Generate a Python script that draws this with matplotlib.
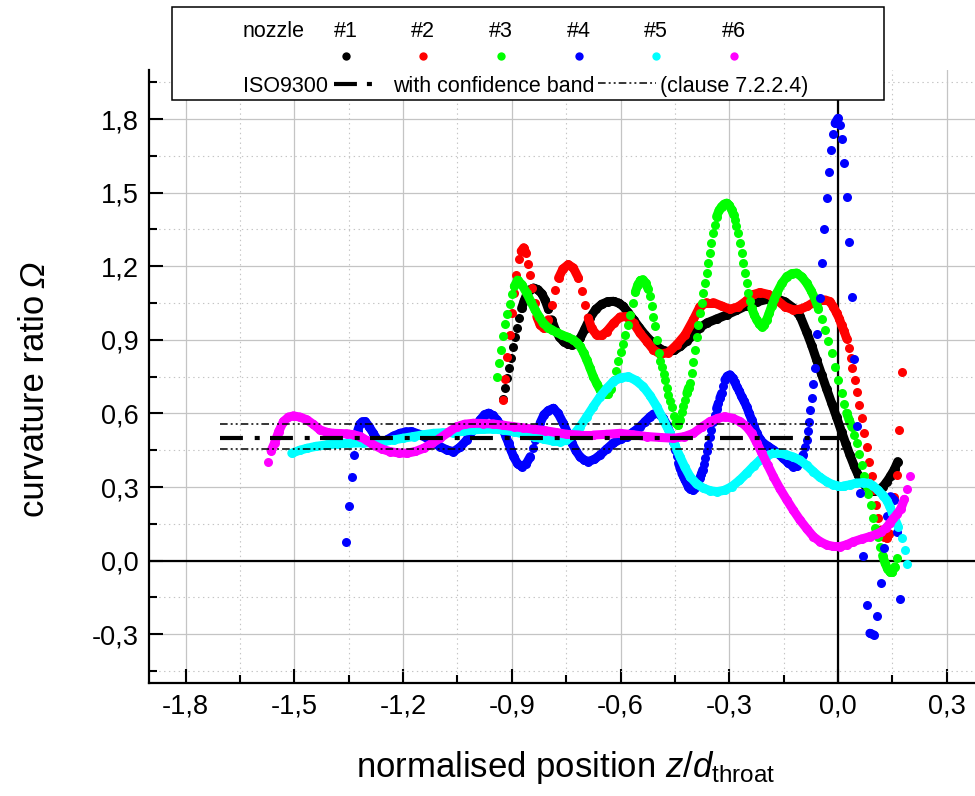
import numpy as np
import matplotlib
matplotlib.use("Agg")
import matplotlib.pyplot as plt
from matplotlib.collections import LineCollection
from matplotlib.lines import Line2D
from matplotlib.patches import Rectangle
from matplotlib.ticker import MultipleLocator, FuncFormatter

plt.rcParams['font.family'] = ['Liberation Sans', 'DejaVu Sans']
plt.rcParams['mathtext.fontset'] = 'custom'
plt.rcParams['mathtext.rm'] = 'Liberation Sans'
plt.rcParams['mathtext.it'] = 'Liberation Sans:italic'
plt.rcParams['lines.scale_dashes'] = False

# values, (z/d_throat, curvature ratio)
NOZZLE_1 = [(-0.923, 0.658), (-0.918, 0.703), (-0.912, 0.745), (-0.907, 0.787), (-0.902, 0.828),
            (-0.897, 0.870), (-0.891, 0.912), (-0.885, 0.950), (-0.879, 0.990), (-0.873, 1.028),
            (-0.866, 1.058), (-0.859, 1.085), (-0.851, 1.103), (-0.840, 1.111), (-0.828, 1.105),
            (-0.817, 1.088), (-0.808, 1.062), (-0.799, 1.025), (-0.790, 0.982), (-0.780, 0.942),
            (-0.768, 0.910), (-0.757, 0.893), (-0.745, 0.882), (-0.734, 0.879), (-0.722, 0.888),
            (-0.711, 0.907), (-0.698, 0.945), (-0.684, 0.990), (-0.668, 1.025), (-0.652, 1.045),
            (-0.635, 1.056), (-0.619, 1.057), (-0.605, 1.050), (-0.592, 1.036), (-0.578, 1.010),
            (-0.564, 0.982), (-0.548, 0.950), (-0.532, 0.920), (-0.516, 0.895), (-0.500, 0.873),
            (-0.484, 0.858), (-0.468, 0.852), (-0.452, 0.857), (-0.435, 0.873), (-0.417, 0.895),
            (-0.399, 0.920), (-0.381, 0.950), (-0.360, 0.970), (-0.335, 0.985), (-0.307, 1.002),
            (-0.280, 1.020), (-0.252, 1.040), (-0.224, 1.055), (-0.196, 1.065), (-0.169, 1.068),
            (-0.146, 1.055), (-0.123, 1.030), (-0.104, 0.995), (-0.086, 0.930), (-0.072, 0.875),
            (-0.059, 0.818), (-0.045, 0.758), (-0.031, 0.698), (-0.017, 0.640), (-0.004, 0.585),
            (0.010, 0.525), (0.022, 0.475), (0.033, 0.430), (0.045, 0.385), (0.056, 0.348),
            (0.066, 0.322), (0.076, 0.303), (0.088, 0.288), (0.100, 0.282), (0.112, 0.288),
            (0.123, 0.300), (0.134, 0.320), (0.145, 0.345), (0.156, 0.373), (0.165, 0.404)]

NOZZLE_2 = [(-0.925, 0.654), (-0.919, 0.740), (-0.912, 0.830), (-0.906, 0.920), (-0.899, 1.010),
            (-0.893, 1.090), (-0.887, 1.165), (-0.880, 1.228), (-0.874, 1.262), (-0.867, 1.275),
            (-0.861, 1.255), (-0.855, 1.210), (-0.849, 1.165), (-0.843, 1.110), (-0.837, 1.050),
            (-0.831, 0.995), (-0.822, 0.962), (-0.812, 0.948), (-0.805, 0.960), (-0.799, 0.982),
            (-0.790, 1.043), (-0.780, 1.104), (-0.771, 1.152), (-0.759, 1.189), (-0.744, 1.207),
            (-0.730, 1.193), (-0.716, 1.152), (-0.707, 1.098), (-0.698, 1.043), (-0.689, 0.989),
            (-0.680, 0.948), (-0.666, 0.920), (-0.652, 0.918), (-0.638, 0.934), (-0.619, 0.968),
            (-0.601, 0.993), (-0.583, 0.995), (-0.564, 0.968), (-0.546, 0.927), (-0.527, 0.893),
            (-0.509, 0.859), (-0.490, 0.842), (-0.468, 0.848), (-0.445, 0.880), (-0.422, 0.920),
            (-0.399, 0.982), (-0.381, 1.035), (-0.362, 1.052), (-0.344, 1.052), (-0.321, 1.038),
            (-0.298, 1.025), (-0.275, 1.035), (-0.252, 1.060), (-0.233, 1.085), (-0.215, 1.093),
            (-0.192, 1.085), (-0.169, 1.063), (-0.146, 1.035), (-0.123, 1.022), (-0.104, 1.025),
            (-0.086, 1.036), (-0.068, 1.052), (-0.050, 1.063), (-0.036, 1.063), (-0.022, 1.056),
            (-0.013, 1.035), (-0.004, 1.010), (0.004, 0.985), (0.010, 0.960), (0.017, 0.935),
            (0.024, 0.905), (0.030, 0.866), (0.035, 0.825), (0.040, 0.784), (0.047, 0.737),
            (0.053, 0.689), (0.059, 0.635), (0.065, 0.580), (0.072, 0.522), (0.079, 0.465),
            (0.085, 0.404), (0.093, 0.345), (0.097, 0.288), (0.105, 0.227), (0.111, 0.173),
            (0.119, 0.125), (0.127, 0.098), (0.135, 0.092), (0.142, 0.110), (0.149, 0.180),
            (0.155, 0.260), (0.162, 0.349), (0.168, 0.533), (0.176, 0.770)]

NOZZLE_3 = [(-0.941, 0.750), (-0.935, 0.805), (-0.929, 0.860), (-0.923, 0.914), (-0.918, 0.965),
            (-0.912, 1.005), (-0.906, 1.045), (-0.900, 1.085), (-0.893, 1.118), (-0.884, 1.143),
            (-0.872, 1.125), (-0.859, 1.091), (-0.847, 1.055), (-0.836, 1.023), (-0.824, 0.993),
            (-0.813, 0.968), (-0.800, 0.950), (-0.790, 0.941), (-0.776, 0.930), (-0.762, 0.920),
            (-0.746, 0.911), (-0.730, 0.900), (-0.720, 0.888), (-0.711, 0.873), (-0.702, 0.848),
            (-0.693, 0.818), (-0.684, 0.785), (-0.675, 0.750), (-0.665, 0.720), (-0.656, 0.695),
            (-0.645, 0.680), (-0.635, 0.678), (-0.626, 0.700), (-0.619, 0.736), (-0.612, 0.775),
            (-0.606, 0.812), (-0.600, 0.850), (-0.594, 0.885), (-0.587, 0.920), (-0.580, 0.960),
            (-0.573, 1.000), (-0.566, 1.050), (-0.559, 1.095), (-0.552, 1.125), (-0.545, 1.142),
            (-0.538, 1.145), (-0.531, 1.132), (-0.524, 1.108), (-0.518, 1.077), (-0.513, 1.036),
            (-0.509, 0.995), (-0.505, 0.955), (-0.500, 0.900), (-0.495, 0.845), (-0.490, 0.815),
            (-0.486, 0.791), (-0.481, 0.762), (-0.477, 0.736), (-0.472, 0.705), (-0.468, 0.675),
            (-0.463, 0.650), (-0.459, 0.627), (-0.453, 0.590), (-0.447, 0.560), (-0.441, 0.552),
            (-0.436, 0.575), (-0.431, 0.605), (-0.427, 0.630), (-0.422, 0.655), (-0.417, 0.682),
            (-0.412, 0.705), (-0.408, 0.725), (-0.403, 0.764), (-0.399, 0.811), (-0.394, 0.860),
            (-0.390, 0.913), (-0.385, 0.960), (-0.381, 1.009), (-0.376, 1.050), (-0.372, 1.090),
            (-0.367, 1.130), (-0.362, 1.172), (-0.358, 1.212), (-0.353, 1.253), (-0.349, 1.295),
            (-0.344, 1.335), (-0.340, 1.370), (-0.335, 1.402), (-0.328, 1.428), (-0.321, 1.443),
            (-0.314, 1.453), (-0.307, 1.457), (-0.300, 1.448), (-0.293, 1.430), (-0.288, 1.410),
            (-0.284, 1.389), (-0.280, 1.365), (-0.275, 1.335), (-0.270, 1.295), (-0.266, 1.253),
            (-0.261, 1.212), (-0.256, 1.172), (-0.252, 1.130), (-0.247, 1.090), (-0.243, 1.058),
            (-0.238, 1.029), (-0.231, 1.002), (-0.224, 0.981), (-0.217, 0.965), (-0.210, 0.954),
            (-0.203, 0.962), (-0.197, 0.981), (-0.190, 1.008), (-0.183, 1.038), (-0.176, 1.065),
            (-0.169, 1.090), (-0.155, 1.130), (-0.141, 1.158), (-0.127, 1.170), (-0.114, 1.172),
            (-0.100, 1.157), (-0.086, 1.131), (-0.074, 1.100), (-0.063, 1.065), (-0.054, 1.027),
            (-0.045, 0.985), (-0.036, 0.940), (-0.027, 0.895), (-0.017, 0.845), (-0.008, 0.790),
            (0.001, 0.735), (0.010, 0.682), (0.017, 0.640), (0.024, 0.601), (0.031, 0.573),
            (0.038, 0.546), (0.045, 0.512), (0.052, 0.479), (0.058, 0.435), (0.065, 0.390),
            (0.072, 0.345), (0.079, 0.302), (0.084, 0.270), (0.090, 0.225), (0.097, 0.175),
            (0.103, 0.135), (0.110, 0.095), (0.116, 0.055), (0.123, 0.020), (0.130, -0.010),
            (0.137, -0.035), (0.143, -0.045), (0.150, -0.045), (0.157, -0.025), (0.164, 0.010)]

NOZZLE_4 = [(-1.357, 0.075), (-1.349, 0.224), (-1.340, 0.342), (-1.334, 0.431), (-1.329, 0.490),
            (-1.325, 0.530), (-1.319, 0.556), (-1.312, 0.566), (-1.304, 0.567), (-1.293, 0.545),
            (-1.282, 0.519), (-1.272, 0.495), (-1.263, 0.479), (-1.254, 0.482), (-1.245, 0.492),
            (-1.226, 0.508), (-1.208, 0.519), (-1.192, 0.525), (-1.176, 0.526), (-1.155, 0.515),
            (-1.134, 0.499), (-1.116, 0.480), (-1.098, 0.465), (-1.080, 0.452), (-1.061, 0.444),
            (-1.043, 0.462), (-1.024, 0.492), (-1.006, 0.535), (-0.987, 0.574), (-0.975, 0.595),
            (-0.964, 0.601), (-0.952, 0.592), (-0.941, 0.574), (-0.932, 0.555), (-0.923, 0.533),
            (-0.916, 0.505), (-0.909, 0.479), (-0.902, 0.450), (-0.895, 0.424), (-0.884, 0.395),
            (-0.872, 0.383), (-0.860, 0.395), (-0.849, 0.424), (-0.842, 0.458), (-0.836, 0.492),
            (-0.829, 0.527), (-0.822, 0.560), (-0.811, 0.595), (-0.799, 0.612), (-0.785, 0.621),
            (-0.772, 0.600), (-0.758, 0.560), (-0.746, 0.520), (-0.734, 0.479), (-0.723, 0.448),
            (-0.712, 0.424), (-0.700, 0.410), (-0.689, 0.404), (-0.672, 0.413), (-0.656, 0.431),
            (-0.638, 0.455), (-0.620, 0.479), (-0.600, 0.495), (-0.583, 0.506), (-0.564, 0.525),
            (-0.546, 0.546), (-0.532, 0.567), (-0.518, 0.587), (-0.509, 0.597), (-0.500, 0.601),
            (-0.491, 0.595), (-0.482, 0.580), (-0.472, 0.553), (-0.463, 0.519), (-0.456, 0.485),
            (-0.450, 0.451), (-0.445, 0.425), (-0.440, 0.397), (-0.435, 0.375), (-0.431, 0.356),
            (-0.426, 0.342), (-0.422, 0.329), (-0.417, 0.315), (-0.413, 0.302), (-0.407, 0.293),
            (-0.401, 0.288), (-0.395, 0.296), (-0.390, 0.309), (-0.385, 0.322), (-0.381, 0.336),
            (-0.377, 0.352), (-0.373, 0.370), (-0.370, 0.392), (-0.367, 0.417), (-0.362, 0.445),
            (-0.358, 0.472), (-0.353, 0.503), (-0.349, 0.533), (-0.344, 0.565), (-0.340, 0.594),
            (-0.335, 0.620), (-0.330, 0.642), (-0.326, 0.662), (-0.321, 0.682), (-0.317, 0.710),
            (-0.312, 0.737), (-0.305, 0.752), (-0.298, 0.757), (-0.291, 0.745), (-0.285, 0.728),
            (-0.279, 0.709), (-0.272, 0.690), (-0.266, 0.669), (-0.259, 0.650), (-0.252, 0.628),
            (-0.245, 0.600), (-0.238, 0.574), (-0.231, 0.545), (-0.224, 0.519), (-0.215, 0.495),
            (-0.206, 0.479), (-0.192, 0.465), (-0.178, 0.451), (-0.164, 0.435), (-0.151, 0.417),
            (-0.137, 0.398), (-0.123, 0.383), (-0.113, 0.385), (-0.103, 0.405), (-0.096, 0.431),
            (-0.090, 0.465), (-0.086, 0.492), (-0.082, 0.530), (-0.079, 0.567), (-0.076, 0.615),
            (-0.073, 0.662), (-0.068, 0.722), (-0.063, 0.784), (-0.057, 0.923), (-0.051, 1.070),
            (-0.044, 1.215), (-0.038, 1.352), (-0.031, 1.480), (-0.025, 1.586), (-0.019, 1.674),
            (-0.013, 1.739), (-0.008, 1.783), (0.000, 1.803), (0.0055, 1.776), (0.012, 1.718),
            (0.017, 1.620), (0.024, 1.481), (0.030, 1.298), (0.038, 1.076), (0.045, 0.821),
            (0.053, 0.549), (0.061, 0.277), (0.070, 0.019), (0.079, -0.181), (0.088, -0.296),
            (0.099, -0.303), (0.108, -0.225), (0.118, -0.092), (0.127, 0.053), (0.134, 0.182),
            (0.145, 0.261), (0.154, 0.247), (0.164, 0.118), (0.171, -0.157)]

NOZZLE_5 = [(-1.507, 0.438), (-1.485, 0.450), (-1.465, 0.458), (-1.440, 0.466), (-1.410, 0.472),
            (-1.380, 0.476), (-1.346, 0.479), (-1.310, 0.480), (-1.282, 0.481), (-1.255, 0.485),
            (-1.226, 0.492), (-1.200, 0.499), (-1.171, 0.506), (-1.145, 0.513), (-1.116, 0.519),
            (-1.090, 0.521), (-1.061, 0.522), (-1.035, 0.527), (-1.006, 0.533), (-0.980, 0.535),
            (-0.951, 0.536), (-0.925, 0.533), (-0.895, 0.526), (-0.868, 0.516), (-0.840, 0.506),
            (-0.812, 0.495), (-0.785, 0.487), (-0.767, 0.485), (-0.750, 0.490), (-0.730, 0.512),
            (-0.712, 0.545), (-0.693, 0.587), (-0.675, 0.628), (-0.656, 0.669), (-0.638, 0.702),
            (-0.620, 0.730), (-0.600, 0.745), (-0.578, 0.750), (-0.558, 0.735), (-0.537, 0.709),
            (-0.518, 0.672), (-0.500, 0.628), (-0.482, 0.575), (-0.463, 0.519), (-0.450, 0.470),
            (-0.436, 0.424), (-0.422, 0.380), (-0.408, 0.342), (-0.390, 0.313), (-0.371, 0.295),
            (-0.352, 0.285), (-0.334, 0.281), (-0.313, 0.287), (-0.293, 0.302), (-0.272, 0.327),
            (-0.252, 0.356), (-0.233, 0.385), (-0.215, 0.410), (-0.196, 0.428), (-0.178, 0.438),
            (-0.160, 0.438), (-0.141, 0.431), (-0.123, 0.422), (-0.105, 0.410), (-0.086, 0.388),
            (-0.068, 0.363), (-0.050, 0.340), (-0.031, 0.322), (-0.015, 0.310), (0.000, 0.305),
            (0.016, 0.305), (0.033, 0.309), (0.050, 0.316), (0.070, 0.318), (0.085, 0.315),
            (0.097, 0.305), (0.110, 0.288), (0.125, 0.265), (0.135, 0.245), (0.143, 0.220),
            (0.150, 0.195), (0.157, 0.170), (0.166, 0.139), (0.176, 0.091), (0.185, 0.044),
            (0.191, -0.015)]

NOZZLE_6 = [(-1.573, 0.401), (-1.564, 0.447), (-1.554, 0.481), (-1.543, 0.526), (-1.530, 0.567),
            (-1.516, 0.585), (-1.502, 0.590), (-1.484, 0.585), (-1.465, 0.574), (-1.447, 0.555),
            (-1.429, 0.533), (-1.410, 0.523), (-1.392, 0.519), (-1.373, 0.518), (-1.355, 0.517),
            (-1.336, 0.513), (-1.318, 0.506), (-1.300, 0.490), (-1.282, 0.472), (-1.258, 0.455),
            (-1.235, 0.444), (-1.212, 0.439), (-1.189, 0.438), (-1.166, 0.445), (-1.143, 0.458),
            (-1.120, 0.478), (-1.098, 0.499), (-1.075, 0.523), (-1.052, 0.546), (-1.030, 0.556),
            (-1.006, 0.560), (-0.978, 0.559), (-0.951, 0.557), (-0.923, 0.552), (-0.895, 0.546),
            (-0.868, 0.541), (-0.840, 0.536), (-0.808, 0.530), (-0.776, 0.522), (-0.748, 0.515),
            (-0.712, 0.512), (-0.675, 0.512), (-0.638, 0.515), (-0.601, 0.519), (-0.565, 0.513),
            (-0.528, 0.506), (-0.490, 0.502), (-0.454, 0.499), (-0.425, 0.505), (-0.399, 0.519),
            (-0.375, 0.545), (-0.353, 0.567), (-0.332, 0.580), (-0.312, 0.587), (-0.290, 0.580),
            (-0.270, 0.567), (-0.253, 0.547), (-0.238, 0.519), (-0.224, 0.480), (-0.210, 0.438),
            (-0.194, 0.390), (-0.178, 0.342), (-0.160, 0.293), (-0.141, 0.247), (-0.123, 0.205),
            (-0.105, 0.166), (-0.086, 0.130), (-0.068, 0.098), (-0.050, 0.078), (-0.031, 0.064),
            (-0.013, 0.058), (0.0055, 0.057), (0.024, 0.065), (0.042, 0.077), (0.065, 0.088),
            (0.088, 0.098), (0.105, 0.107), (0.120, 0.118), (0.132, 0.132), (0.143, 0.152),
            (0.153, 0.172), (0.163, 0.190), (0.173, 0.210), (0.183, 0.250), (0.191, 0.291),
            (0.200, 0.347)]

NOZZLES = ['#1', '#2', '#3', '#4', '#5', '#6']
COLORS = ['black', '#ff0000', '#00ff00', '#0000ff', '#00ffff', '#ff00ff']
SERIES = [NOZZLE_1, NOZZLE_2, NOZZLE_3, NOZZLE_4, NOZZLE_5, NOZZLE_6]

ISO_VALUE = 0.5
BAND = (0.454, 0.556)
ISO_RANGE = (-1.705, 0.03)

W, H = 975, 796
DOT = 6.5        # marker diameter, pt
STEEP = 4.6      # above this slope the dots stay apart
THICK_DASH = (0, (16.5, 8.5, 3.6, 7.4))
THIN_DASH = (0, (5.5, 2.2, 1.4, 2.2, 1.4, 2.2))
LABEL_FS = 25
TICK_FS = 19.5
LEG_FS = 15.5


def fx(px):
    return px / W


def fy(py):
    return 1 - py / H


def comma(v, pos):
    s = f"{v:.1f}".replace('.', ',')
    return '0,0' if s == '-0,0' else s


fig = plt.figure(figsize=(W / 100, H / 100), dpi=100)
ax = fig.add_axes([fx(149.3), fy(683.3), fx(975) - fx(149.3), fy(70) - fy(683.3)])
ax.set_xlim(-1.9, 0.378)
ax.set_ylim(-0.5, 2.0)

ax.xaxis.set_major_locator(MultipleLocator(0.3))
ax.xaxis.set_minor_locator(MultipleLocator(0.15))
ax.yaxis.set_major_locator(MultipleLocator(0.3))
ax.yaxis.set_minor_locator(MultipleLocator(0.15))
ax.xaxis.set_major_formatter(FuncFormatter(comma))
ax.yaxis.set_major_formatter(FuncFormatter(comma))

ax.set_axisbelow(True)
ax.grid(which='major', color='#c4c4c4', lw=0.9)
ax.grid(which='minor', color='#c4c4c4', lw=0.8, ls=(0, (1, 2.5)))

for side in ['top', 'right']:
    ax.spines[side].set_visible(False)
for side in ['left', 'bottom']:
    ax.spines[side].set_linewidth(1.6)

ax.tick_params(which='both', direction='in', width=1.5, labelsize=TICK_FS, pad=7.5,
               top=False, right=False)
ax.tick_params(which='major', length=10)
ax.tick_params(which='minor', length=5.5)

ax.axhline(0, color='black', lw=1.6, zorder=2)
ax.axvline(0, color='black', lw=1.6, zorder=2)

for i, (pts, color) in enumerate(zip(SERIES, COLORS)):
    xs, ys = np.array(pts).T
    slope = np.abs(np.diff(ys) / np.diff(xs))
    segs = [[(xs[k], ys[k]), (xs[k + 1], ys[k + 1])]
            for k in range(len(xs) - 1) if slope[k] < STEEP]
    ax.add_collection(LineCollection(segs, colors=color, linewidths=DOT,
                                     capstyle='round', zorder=3 + i))
    ax.plot(xs, ys, 'o', ms=DOT, mew=0, color=color, zorder=3 + i)

# ISO9300 value with its confidence band
ax.plot(ISO_RANGE, [ISO_VALUE] * 2, color='black', lw=3, ls=THICK_DASH, zorder=20)
for b in BAND:
    ax.plot(ISO_RANGE, [b] * 2, color='black', lw=1.1, ls=THIN_DASH, zorder=20)

# y label: upright words, italic Omega stacked after them
ylab = fig.text(fx(35), fy(517), 'curvature ratio', rotation=90,
                ha='center', va='bottom', fontsize=LABEL_FS)
fig.canvas.draw()
bb = ylab.get_window_extent()
fig.text(fx(35), (bb.y1 + 7) / H, '\u03a9', rotation=90, style='italic',
         ha='center', va='bottom', fontsize=LABEL_FS)

fig.text(fx(566), fy(777), r'normalised position $z/d_{\mathrm{throat}}$',
         ha='center', va='baseline', fontsize=LABEL_FS)

# legend box drawn by hand, above the axes
fig.add_artist(Rectangle((fx(171.7), fy(100)), fx(884) - fx(171.7), fy(7.3) - fy(100),
                         transform=fig.transFigure, facecolor='white',
                         edgecolor='black', lw=1.1, zorder=10))
fig.text(fx(243), fy(36.7), 'nozzle', ha='left', va='baseline', fontsize=LEG_FS, zorder=11)
for i, (lab, color) in enumerate(zip(NOZZLES, COLORS)):
    cx = 345.5 + 77.7 * i
    fig.text(fx(cx), fy(36.7), lab, ha='center', va='baseline', fontsize=LEG_FS, zorder=11)
    fig.add_artist(Line2D([fx(cx)], [fy(55.7)], marker='o', ms=6.0, mew=0, color=color,
                          transform=fig.transFigure, zorder=11))

fig.text(fx(243), fy(91.7), 'ISO9300', ha='left', va='baseline', fontsize=LEG_FS, zorder=11)
fig.add_artist(Line2D([fx(334), fx(373)], [fy(84)] * 2, color='black', lw=3,
                      ls=(0, (16.5, 7.2, 3.6, 10)), transform=fig.transFigure, zorder=11))
fig.text(fx(392.7), fy(91.7), 'with confidence band', ha='left', va='baseline',
         fontsize=LEG_FS, zorder=11)
fig.add_artist(Line2D([fx(598), fx(656)], [fy(83)] * 2, color='black', lw=1.1,
                      ls=THIN_DASH, transform=fig.transFigure, zorder=11))
fig.text(fx(660), fy(91.7), '(clause 7.2.2.4)', ha='left', va='baseline',
         fontsize=LEG_FS, zorder=11)

fig.savefig('out.png', dpi=100)
